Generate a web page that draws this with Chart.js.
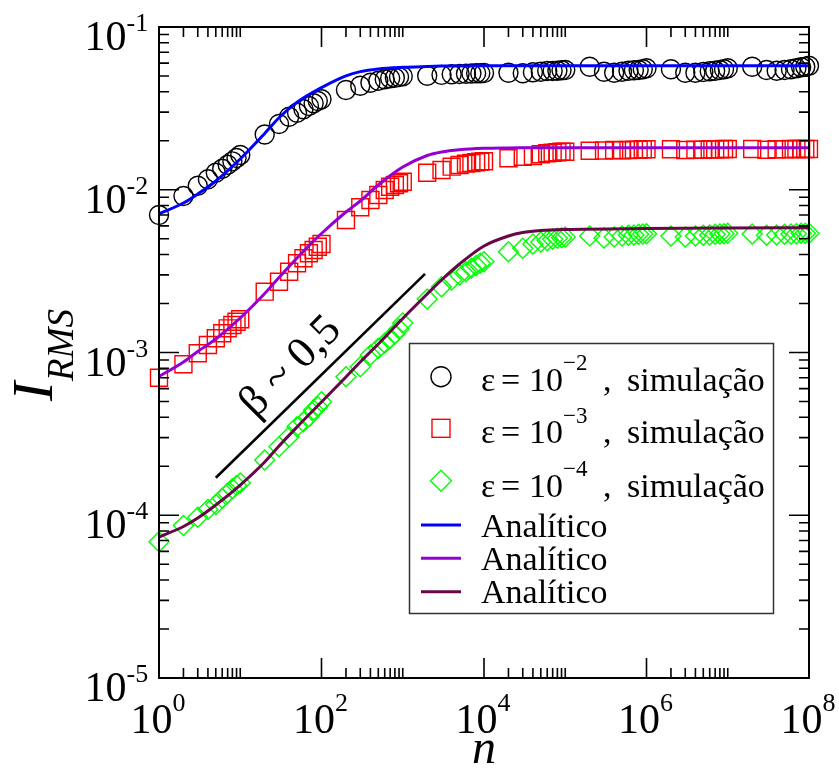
<!DOCTYPE html>
<html><head><meta charset="utf-8">
<script src="https://cdn.jsdelivr.net/npm/chart.js@4.4.1/dist/chart.umd.min.js"></script>
<style>html,body{margin:0;background:#fff}#wrap{width:839px;height:773px;position:relative}</style>
</head><body><div id="wrap"><canvas id="c"></canvas></div>
<script>
// simulated points: n = 1..10, 20..100, ..., 2e7..1e8
const N_SIM=[1,2,3,4,5,6,7,8,9,10,20,30,40,50,60,70,80,90,100,
  200,300,400,500,600,700,800,900,1e3,2e3,3e3,4e3,5e3,6e3,7e3,8e3,9e3,1e4,
  2e4,3e4,4e4,5e4,6e4,7e4,8e4,9e4,1e5,2e5,3e5,4e5,5e5,6e5,7e5,8e5,9e5,1e6,
  2e6,3e6,4e6,5e6,6e6,7e6,8e6,9e6,1e7,2e7,3e7,4e7,5e7,6e7,7e7,8e7,9e7,1e8];
const SIM_E2=[0.00700,0.00915,0.01059,0.01159,0.01273,0.01347,0.01425,0.01495,0.01567,0.01635,
  0.02185,0.02535,0.02811,0.02975,0.03121,0.03270,0.03398,0.03510,0.03595,
  0.04101,0.04358,0.04548,0.04678,0.04772,0.04840,0.04881,0.04929,0.04978,
  0.05021,0.05080,0.05121,0.05140,0.05165,0.05180,0.05194,0.05194,0.05216,
  0.05238,0.05194,0.05268,0.05313,0.05366,0.05366,0.05389,0.05419,0.05442,
  0.05703,0.05313,0.05238,0.05313,0.05389,0.05419,0.05442,0.05497,0.05575,
  0.05497,0.05238,0.05238,0.05291,0.05343,0.05389,0.05442,0.05497,0.05575,
  0.05703,0.05442,0.05389,0.05442,0.05497,0.05575,0.05655,0.05703,0.05784];
const SIM_E3=[0.000700,0.000847,0.000989,0.001112,0.001223,0.001312,0.001408,0.001475,0.001546,0.001600,
  0.002364,0.002723,0.003137,0.003532,0.003791,0.004069,0.004264,0.004468,0.004642,
  0.006520,0.007802,0.008650,0.009284,0.009965,0.010441,0.010695,0.010955,0.011206,
  0.012728,0.013225,0.013859,0.014196,0.014460,0.014604,0.014749,0.014875,0.014960,
  0.015605,0.015962,0.016121,0.016514,0.016749,0.016891,0.016987,0.017132,0.017132,
  0.017376,0.017420,0.017549,0.017500,0.017549,0.017600,0.017580,0.017724,0.017724,
  0.017724,0.017549,0.017625,0.017625,0.017724,0.017724,0.017724,0.017799,0.017799,
  0.017799,0.017625,0.017724,0.017724,0.017799,0.017799,0.017799,0.017799,0.017799];
const SIM_E4=[0.0000688,0.0000865,0.0000971,0.0001085,0.0001164,0.0001271,0.0001364,0.0001454,0.0001523,0.0001578,
  0.0002185,0.0002638,0.0003038,0.0003500,0.0003757,0.0004032,0.0004433,0.0004645,0.0004986,
  0.0007100,0.0008180,0.0009653,0.001061,0.001139,0.001223,0.001299,0.001394,0.001518,
  0.002132,0.002537,0.002789,0.002994,0.003137,0.003291,0.003424,0.003532,0.003613,
  0.004163,0.004368,0.004642,0.004775,0.004864,0.004961,0.005032,0.005074,0.005125,
  0.005198,0.005053,0.005125,0.005198,0.005250,0.005272,0.005324,0.005347,0.005370,
  0.005198,0.005125,0.005198,0.005250,0.005272,0.005324,0.005347,0.005370,0.005400,
  0.005347,0.005250,0.005272,0.005324,0.005347,0.005370,0.005400,0.005400,0.005400];

// analytic curves
const N_FIT=[1,2,3,5,10,20,30,50,100,200,300,500,1e3,2e3,3e3,5e3,1e4,2e4,3e4,5e4,1e5,1e6,1e7,1e8];
const FIT_E2=[0.00710,0.00829,0.00942,0.01132,0.01545,0.02217,0.02771,0.03446,0.04243,0.05014,0.05321,0.05528,
  0.05655,0.05720,0.05750,0.05765,0.0577,0.0577,0.0577,0.0577,0.0577,0.0577,0.0577,0.0577];
const FIT_E3=[0.000712,0.000874,0.001014,0.001211,0.001629,0.002305,0.002890,0.003808,0.005385,0.007299,0.008528,0.010695,
  0.013800,0.016237,0.017061,0.017625,0.017978,0.01808,0.01811,0.01813,0.018131,0.01813,0.01813,0.01813];
const FIT_E4=[0.0000735,0.0000853,0.0000962,0.0001156,0.0001534,0.0002124,0.0002664,0.0003485,0.0004964,0.0007073,0.000874,0.001128,
  0.001618,0.002288,0.002789,0.003498,0.004512,0.005198,0.005462,0.005619,0.005699,0.005780,0.00582,0.005846];

// slope guide line
const BETA_N=[5,1880];
const BETA_I=[1.70e-4,3.04e-3];

const X_MAJOR=[1,1e2,1e4,1e6,1e8];
const X_EXP=["0","2","4","6","8"];
const Y_MAJOR=[1e-1,1e-2,1e-3,1e-4,1e-5];
const Y_EXP=["-1","-2","-3","-4","-5"];
const LEGEND_EXP=["\u22122","\u22123","\u22124"];

const SERIF='"Liberation Serif","Times New Roman",serif';
const pts=(xs,ys)=>xs.map((v,i)=>({x:v,y:ys[i]}));

const fitLine=(data,color)=>({data,showLine:true,borderColor:color,borderWidth:3,pointRadius:0,
  cubicInterpolationMode:'monotone',order:0});
const simPts=(data,color,style,r)=>({data,showLine:false,pointStyle:style,pointRadius:r,
  pointBorderColor:color,pointBackgroundColor:'rgba(0,0,0,0)',pointBorderWidth:1.4,order:1,clip:false});

const decor={
  id:'decor',
  afterDraw(chart){
    const {ctx,chartArea:a,scales:{x,y}}=chart;
    ctx.save();
    ctx.strokeStyle='#000';ctx.fillStyle='#000';
    // ticks, inside on all four sides
    ctx.lineWidth=1.6;
    ctx.beginPath();
    const xt=(v,len)=>{const p=x.getPixelForValue(v);
      ctx.moveTo(p,a.bottom);ctx.lineTo(p,a.bottom-len);ctx.moveTo(p,a.top);ctx.lineTo(p,a.top+len);};
    const yt=(v,len)=>{const p=y.getPixelForValue(v);
      ctx.moveTo(a.left,p);ctx.lineTo(a.left+len,p);ctx.moveTo(a.right,p);ctx.lineTo(a.right-len,p);};
    X_MAJOR.forEach((m,i)=>{xt(m,20); if(i<X_MAJOR.length-1) for(let k=2;k<=10;k++) xt(k*m,10);});
    Y_MAJOR.forEach((m,i)=>{yt(m,20); if(i<Y_MAJOR.length-1) for(let k=2;k<=9;k++) yt(k*m/10,10);});
    ctx.stroke();
    ctx.lineWidth=2;
    ctx.strokeRect(a.left,a.top,a.right-a.left,a.bottom-a.top);

    // tick labels
    ctx.textBaseline='alphabetic';
    X_MAJOR.forEach((m,i)=>{
      const p=x.getPixelForValue(m);
      ctx.font='42px '+SERIF;ctx.textAlign='left';
      const w=ctx.measureText('10').width;
      ctx.fillText('10',p-28.5,733);
      ctx.font='26px '+SERIF;ctx.fillText(X_EXP[i],p-28.5+w,711);
    });
    Y_MAJOR.forEach((m,i)=>{
      const p=y.getPixelForValue(m);
      ctx.font='42px '+SERIF;ctx.textAlign='right';ctx.fillText('10',126.5,p+23);
      ctx.font='26px '+SERIF;ctx.textAlign='left';ctx.fillText(Y_EXP[i],126.5,p+4);
    });

    // axis titles
    ctx.font='italic 48px '+SERIF;ctx.textAlign='center';
    ctx.fillText('n',(a.left+a.right)/2,763);
    ctx.save();
    ctx.translate(52,401);ctx.rotate(-Math.PI/2);
    ctx.textAlign='left';
    ctx.font='italic 58px '+SERIF;ctx.fillText('I',0,0);
    ctx.font='italic 37px '+SERIF;ctx.fillText('RMS',20,21);
    ctx.restore();

    // slope label
    ctx.save();
    ctx.translate(291,367);ctx.rotate(-Math.PI/4);
    ctx.font='44px '+SERIF;ctx.textAlign='center';ctx.textBaseline='middle';
    ctx.fillText('\u03b2 ~ 0,5',0,0);
    ctx.restore();

    // legend
    ctx.fillStyle='#fff';ctx.fillRect(409.5,343.5,364,270);
    ctx.strokeStyle='#333';ctx.lineWidth=1.5;ctx.strokeRect(409.5,343.5,364,270);
    const mk=[376.7,428.3,480.7], base=[390.5,443,496.5];
    ctx.lineWidth=1.4;
    ctx.strokeStyle='#000';ctx.beginPath();ctx.arc(441,mk[0],10,0,Math.PI*2);ctx.stroke();
    ctx.strokeStyle='#ff0000';ctx.strokeRect(432,mk[1]-9,18,18);
    ctx.strokeStyle='#00ff00';ctx.beginPath();
    ctx.moveTo(430.5,mk[2]);ctx.lineTo(441,mk[2]-10.5);ctx.lineTo(451.5,mk[2]);ctx.lineTo(441,mk[2]+10.5);ctx.closePath();ctx.stroke();
    ctx.fillStyle='#000';ctx.textAlign='left';ctx.textBaseline='alphabetic';
    base.forEach((b,i)=>{
      ctx.font='34px '+SERIF;
      ctx.fillText('\u03b5',481,b);ctx.fillText('=',501,b);ctx.fillText('10',529,b);
      ctx.fillText(',',603,b);ctx.fillText('simula\u00e7\u00e3o',627,b);
      ctx.font='23px '+SERIF;ctx.fillText(LEGEND_EXP[i],563,b-20.5);
    });
    const lc=['#0000ff','#9400d3','#670748'], ly=[525,558.3,591.7], lb=[537,570,603];
    ctx.lineWidth=3;
    lc.forEach((c,i)=>{
      ctx.strokeStyle=c;ctx.beginPath();ctx.moveTo(421,ly[i]);ctx.lineTo(461,ly[i]);ctx.stroke();
      ctx.font='34px '+SERIF;ctx.fillText('Anal\u00edtico',481,lb[i]);
    });
    ctx.restore();
  }
};

new Chart(document.getElementById('c'),{
  type:'scatter',
  data:{datasets:[
    fitLine(pts(N_FIT,FIT_E2),'#0000ff'),
    fitLine(pts(N_FIT,FIT_E3),'#9400d3'),
    fitLine(pts(N_FIT,FIT_E4),'#670748'),
    {data:pts(BETA_N,BETA_I),showLine:true,borderColor:'#000',borderWidth:2.6,pointRadius:0,order:0},
    simPts(pts(N_SIM,SIM_E2),'#000000','circle',9.5),
    simPts(pts(N_SIM,SIM_E3),'#ff0000','rect',12),
    simPts(pts(N_SIM,SIM_E4),'#00ff00','rectRot',10)
  ]},
  options:{
    responsive:true,maintainAspectRatio:false,animation:false,events:[],
    layout:{padding:{left:159,right:30,top:27,bottom:95}},
    plugins:{legend:{display:false},tooltip:{enabled:false}},
    scales:{
      x:{type:'logarithmic',min:1,max:1e8,display:false},
      y:{type:'logarithmic',min:1e-5,max:1e-1,display:false}
    }
  },
  plugins:[decor]
});
</script>
</body></html>
